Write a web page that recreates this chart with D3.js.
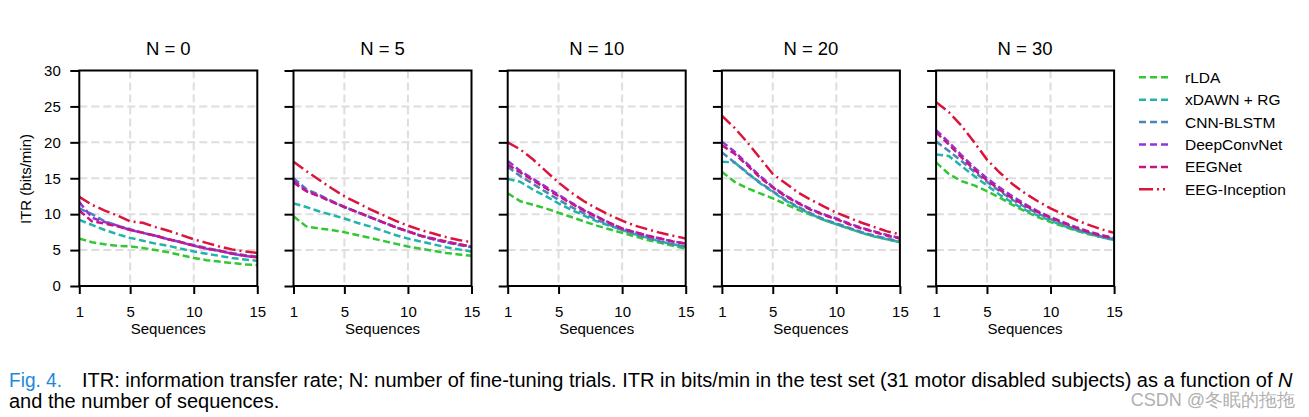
<!DOCTYPE html>
<html><head><meta charset="utf-8">
<script src="https://cdn.jsdelivr.net/npm/d3@7"></script>
<style>body{margin:0;background:#fff}svg{display:block}text{font-family:"Liberation Sans",Arial,sans-serif}</style>
</head><body>
<svg id="c" width="1309" height="417"></svg>
<script>
const panels = ["N = 0", "N = 5", "N = 10", "N = 20", "N = 30"];
const sequences = [1,2,3,4,5,6,7,8,9,10,11,12,13,14,15];
const methods = ["rLDA", "xDAWN + RG", "CNN-BLSTM", "DeepConvNet", "EEGNet", "EEG-Inception"];
const colors = ["#33c733", "#22b3ab", "#4a86b8", "#9333e0", "#c71585", "#dc143c"];
const yTicks = [0,5,10,15,20,25,30];
const xTicks = [1,5,10,15];

// values per panel (N = 0, 5, 10, 20, 30) for each method -> ITR per sequence
const rLDA = [
  [6.6,6.1,5.8,5.6,5.5,5.3,5.0,4.7,4.3,3.9,3.6,3.4,3.2,3.0,2.9],
  [9.7,8.3,8.0,7.8,7.5,7.1,6.7,6.3,5.9,5.5,5.2,4.9,4.6,4.4,4.2],
  [12.9,11.8,11.3,10.8,10.2,9.6,9.0,8.4,7.9,7.4,6.9,6.4,6.0,5.6,5.2],
  [15.9,14.5,13.6,12.9,12.2,11.4,10.6,9.9,9.2,8.6,8.0,7.4,6.9,6.5,6.1],
  [17.2,15.6,14.6,14.0,13.2,12.3,11.3,10.4,9.6,8.9,8.3,7.7,7.2,6.8,6.4]
];
const xDAWN = [
  [9.2,8.5,7.8,7.2,6.7,6.3,5.9,5.6,5.2,4.8,4.5,4.2,3.9,3.7,3.5],
  [11.5,11.0,10.4,9.9,9.4,8.8,8.3,7.7,7.1,6.6,6.2,5.8,5.4,5.1,4.8],
  [14.9,14.5,13.4,12.5,11.5,10.6,9.8,9.0,8.4,7.8,7.2,6.7,6.2,5.8,5.4],
  [17.3,17.2,15.8,14.3,13.1,11.9,10.9,10.0,9.2,8.6,8.0,7.4,6.9,6.5,6.1],
  [18.3,18.1,16.7,15.3,14.0,12.7,11.6,10.6,9.8,9.1,8.4,7.8,7.3,6.8,6.4]
];
const CNNBLSTM = [
  [10.8,10.0,9.0,8.4,7.9,7.4,7.0,6.5,6.1,5.7,5.3,4.9,4.6,4.3,4.1],
  [15.0,13.5,12.7,11.8,11.0,10.3,9.6,8.9,8.2,7.6,7.0,6.5,6.1,5.7,5.4],
  [16.6,15.3,14.2,13.1,12.0,11.0,10.1,9.2,8.5,7.8,7.2,6.7,6.2,5.8,5.5],
  [18.6,17.2,15.7,14.4,13.2,12.0,11.0,10.1,9.3,8.7,8.1,7.5,7.0,6.6,6.2],
  [20.1,18.8,17.4,15.9,14.5,13.2,12.0,11.0,10.1,9.3,8.6,7.9,7.4,6.9,6.5]
];
const DeepConvNet = [
  [11.7,9.5,8.9,8.4,7.8,7.4,7.0,6.5,6.1,5.6,5.2,4.9,4.5,4.2,4.0],
  [14.7,13.3,12.6,11.8,11.0,10.3,9.6,8.9,8.2,7.6,7.0,6.5,6.1,5.8,5.5],
  [17.4,16.0,14.9,13.8,12.7,11.6,10.6,9.7,8.8,8.0,7.5,7.0,6.6,6.2,5.9],
  [20.1,18.7,17.0,15.3,13.8,12.6,11.6,10.7,10.0,9.4,8.7,8.1,7.6,7.1,6.7],
  [21.7,20.0,18.2,16.5,15.0,13.7,12.5,11.4,10.4,9.6,8.9,8.2,7.6,7.1,6.7]
];
const EEGNet = [
  [10.5,9.0,8.7,8.3,7.8,7.4,7.0,6.5,6.1,5.6,5.2,4.9,4.5,4.2,4.0],
  [14.4,13.2,12.5,11.7,11.0,10.3,9.6,8.9,8.2,7.6,7.0,6.6,6.2,5.8,5.5],
  [16.9,15.8,14.7,13.6,12.5,11.5,10.5,9.6,8.8,8.0,7.5,7.0,6.6,6.2,5.9],
  [19.6,18.4,16.8,15.1,13.7,12.5,11.5,10.6,9.9,9.3,8.6,8.0,7.5,7.0,6.6],
  [21.4,19.7,17.9,16.2,14.7,13.4,12.2,11.2,10.3,9.5,8.8,8.1,7.5,7.0,6.6]
];
const EEGInception = [
  [12.4,11.3,10.5,9.8,9.0,8.8,8.2,7.7,7.1,6.5,6.0,5.5,5.1,4.8,4.6],
  [17.3,16.0,14.8,13.6,12.5,11.6,10.7,9.9,9.1,8.4,7.8,7.3,6.8,6.4,6.1],
  [20.0,19.0,17.6,16.0,14.4,13.0,11.8,10.8,9.9,9.1,8.4,7.9,7.4,7.0,6.6],
  [23.7,22.0,20.0,17.8,15.6,14.3,13.0,12.0,11.1,10.2,9.5,8.8,8.2,7.6,7.2],
  [25.6,24.2,22.3,20.0,17.6,15.8,14.2,12.9,11.8,10.8,10.0,9.2,8.5,7.9,7.4]
];
const seriesByMethod = [rLDA, xDAWN, CNNBLSTM, DeepConvNet, EEGNet, EEGInception];
const dashes = ["7,3.5", "7,3.5", "7,3.5", "7,3.5", "7,3.5", "12,4,2,4"];

const svg = d3.select("#c");
const plotTop = 70.5, plotBottom = 286, pw = 178, step = 214.2, left0 = 79.3;
const y = d3.scaleLinear().domain([0,30]).range([plotBottom, plotTop]);
const FONT = '"Liberation Sans",Arial,sans-serif';
const AX = 15;

panels.forEach((title, p) => {
  const x0 = left0 + p*step;
  const x = d3.scaleLinear().domain([1,15]).range([x0, x0+pw]);
  const g = svg.append("g");
  g.selectAll(".gx").data([5,10]).enter().append("line")
    .attr("x1", d=>x(d)).attr("x2", d=>x(d)).attr("y1", plotTop).attr("y2", plotBottom)
    .attr("stroke", "#dedede").attr("stroke-width", 2).attr("stroke-dasharray", "8,4");
  g.selectAll(".gy").data([5,10,15,20,25]).enter().append("line")
    .attr("x1", x0).attr("x2", x0+pw).attr("y1", d=>y(d)).attr("y2", d=>y(d))
    .attr("stroke", "#dedede").attr("stroke-width", 2).attr("stroke-dasharray", "8,4");
  const line = d3.line().x((d,i)=>x(sequences[i])).y(d=>y(d));
  methods.forEach((m, k) => {
    g.append("path").datum(seriesByMethod[k][p])
      .attr("d", line).attr("fill", "none").attr("stroke", colors[k])
      .attr("stroke-width", 2.5).attr("stroke-dasharray", dashes[k]);
  });
  g.append("rect").attr("x", x0).attr("y", plotTop).attr("width", pw).attr("height", plotBottom-plotTop)
    .attr("fill", "none").attr("stroke", "#000").attr("stroke-width", 2);
  const ax = g.append("g").attr("transform", `translate(0,${plotBottom})`)
    .call(d3.axisBottom(x).tickValues(xTicks).tickSize(8).tickPadding(12));
  ax.select(".domain").remove();
  ax.selectAll("line").attr("stroke-width", 2);
  ax.selectAll("text").attr("font-size", AX).attr("fill", "#000").attr("font-family", FONT);
  const ay = g.append("g").attr("transform", `translate(${x0},0)`)
    .call(d3.axisLeft(y).tickValues(yTicks).tickSize(9).tickPadding(9.5).tickFormat(p===0? d3.format("d") : ""));
  ay.select(".domain").remove();
  ay.selectAll("line").attr("stroke-width", 2);
  ay.selectAll("text").attr("font-size", AX).attr("fill", "#000").attr("font-family", FONT);
  g.append("text").attr("x", x0+pw/2).attr("y", 55).attr("text-anchor", "middle")
    .attr("font-size", 18.5).text(title);
  g.append("text").attr("x", x0+pw/2).attr("y", 334).attr("text-anchor", "middle")
    .attr("font-size", AX).text("Sequences");
});

svg.append("text").attr("transform", "translate(31,179) rotate(-90)")
  .attr("text-anchor", "middle").attr("font-size", AX).text("ITR (bits/min)");

const lg = svg.append("g");
methods.forEach((m, k) => {
  const yy = 77.3 + k*22.4;
  lg.append("line").attr("x1", 1139).attr("x2", 1171).attr("y1", yy).attr("y2", yy)
    .attr("stroke", colors[k]).attr("stroke-width", 2.5).attr("stroke-dasharray", k===5 ? "14,4,2,4,2" : "7,4");
  lg.append("text").attr("x", 1185).attr("y", yy+5.5).attr("font-size", 15.5).text(m);
});

svg.append("text").attr("x", 9).attr("y", 387).attr("font-size", 20).attr("fill", "#1e88d8")
  .attr("textLength", 53).attr("lengthAdjust", "spacingAndGlyphs").text("Fig. 4.");
const cap = svg.append("text").attr("x", 82).attr("y", 387).attr("font-size", 20).attr("fill", "#000");
cap.append("tspan").text("ITR: information transfer rate; N: number of fine-tuning trials. ITR in bits/min in the test set (31 motor disabled subjects) as a function of ");
cap.append("tspan").attr("font-style", "italic").text("N");
svg.append("text").attr("x", 9).attr("y", 408).attr("font-size", 20)
  .text("and the number of sequences.");
svg.append("text").attr("x", 1295).attr("y", 406).attr("text-anchor", "end").attr("font-size", 18)
  .attr("fill", "#b0b0b0").attr("font-family", '"Noto Sans CJK SC",sans-serif').text("CSDN @冬眠的拖拖");
</script>
</body></html>
